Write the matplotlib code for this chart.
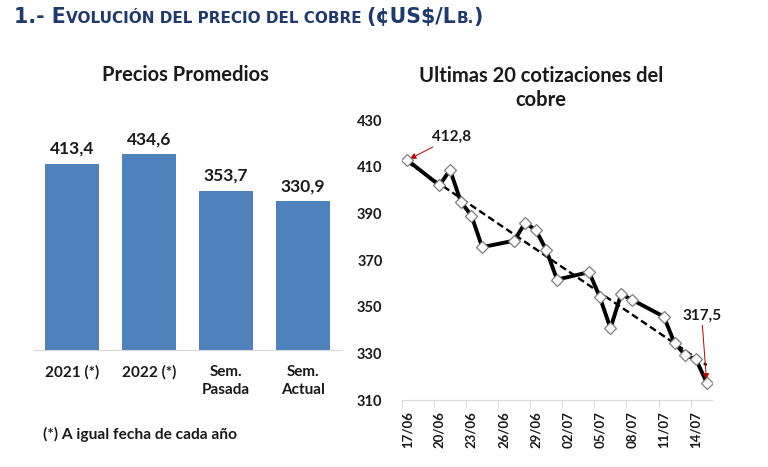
import numpy as np
import pandas as pd
import matplotlib
matplotlib.use("Agg")
import matplotlib.pyplot as plt

plt.rcParams['font.family'] = ['Lato', 'DejaVu Sans']

# Precios promedios
categorias = ["2021 (*)", "2022 (*)", "Sem.\nPasada", "Sem.\nActual"]
promedios = [413.4, 434.6, 353.7, 330.9]

# Ultimas cotizaciones (¢US$/Lb.)
fechas = ["17/06", "20/06", "21/06", "22/06", "23/06", "24/06",
          "27/06", "28/06", "29/06", "30/06", "01/07",
          "04/07", "05/07", "06/07", "07/07", "08/07",
          "11/07", "12/07", "13/07", "14/07", "15/07"]
cotizaciones = [412.8, 402.0, 408.6, 395.0, 389.0, 375.5,
                378.3, 385.8, 383.0, 374.3, 361.6,
                364.8, 354.2, 340.7, 355.4, 353.0,
                345.7, 334.3, 329.3, 327.4, 317.5]
ticks_fechas = ["17/06", "20/06", "23/06", "26/06", "29/06",
                "02/07", "05/07", "08/07", "11/07", "14/07"]

W, H = 768, 467
fig = plt.figure(figsize=(W / 100, H / 100), dpi=100)
txt = '#1a1a1a'
azul = '#1f3a6e'


def px(l, t, r, b):
    return [l / W, (H - b) / H, (r - l) / W, (b - t) / H]


# header in small caps, pieces chained one after the other
hdr = fig.add_axes([0, 0, 1, 1])
hdr.set_axis_off()
piezas = [("1.- E", 14.8), ("VOLUCIÓN DEL PRECIO DEL COBRE ", 11),
          ("(¢US$/L", 14.8), ("B.", 11), (")", 14.8)]
prev = None
for s, size in piezas:
    if prev is None:
        prev = hdr.annotate(s, xy=(14, 444), xycoords='figure pixels',
                            ha='left', va='baseline', fontsize=size,
                            fontweight='bold', color=azul, family='DejaVu Sans')
    else:
        prev = hdr.annotate(s, xy=(1, 444), xycoords=(prev, 'figure pixels'),
                            ha='left', va='baseline', fontsize=size,
                            fontweight='bold', color=azul, family='DejaVu Sans')

# Graph 1: precios promedios
ax1 = fig.add_axes(px(33.5, 134, 341.5, 350))
x = np.arange(len(categorias))
bars = ax1.bar(x, promedios, width=0.71, color='#4F81BD')
ax1.set_xlim(-0.5, len(categorias) - 0.5)
ax1.set_ylim(0, 480)
for b, v in zip(bars, promedios):
    ax1.annotate(f"{v:.1f}".replace('.', ','), xy=(b.get_x() + b.get_width() / 2, v),
                 xytext=(0, 7), textcoords='offset pixels', ha='center', va='bottom',
                 fontsize=12.5, fontweight='bold', color=txt)
ax1.set_xticks(x)
ax1.set_xticklabels(categorias, fontsize=11, fontweight='bold', color=txt, linespacing=1.35)
ax1.tick_params(axis='x', length=0, pad=11)
ax1.set_yticks([])
for s in ['top', 'right', 'left']:
    ax1.spines[s].set_visible(False)
ax1.spines['bottom'].set_color('#d9d9d9')
fig.text(185 / W, (H - 75) / H, "Precios Promedios", ha='center', va='center',
         fontsize=14.5, fontweight='bold', color=txt)
fig.text(43 / W, (H - 434) / H, "(*) A igual fecha de cada año", ha='left', va='center',
         fontsize=11.2, fontweight='bold', color=txt)

# Graph 2: ultimas cotizaciones
d = pd.to_datetime([f + "/2022" for f in fechas], format='%d/%m/%Y')
dias = np.array((d - d[0]).days, dtype=float)
dt = pd.to_datetime([f + "/2022" for f in ticks_fechas], format='%d/%m/%Y')
dias_t = np.array((dt - d[0]).days, dtype=float)

ax2 = fig.add_axes(px(402, 120, 712, 400))
ax2.plot(dias, cotizaciones, color='black', lw=2.8, zorder=2, solid_joinstyle='round')
a, b0 = np.polyfit(dias, cotizaciones, 1)
ax2.plot(dias, a * dias + b0, color='black', lw=1.7, ls=(0, (3, 1.6)), zorder=3)
ax2.plot(dias, cotizaciones, ls='none', marker='D', ms=6.3, mfc='white',
         mec='#7f7f7f', mew=0.9, zorder=4)
ax2.set_xlim(-0.5, dias[-1] + 0.5)
ax2.set_ylim(310, 430)
ax2.set_yticks(np.arange(310, 431, 20))
ax2.tick_params(axis='y', length=0, pad=14, labelsize=10.5, labelcolor=txt)
for lab in ax2.get_yticklabels():
    lab.set_fontweight('bold')
ax2.set_xticks(dias_t)
ax2.set_xticklabels(ticks_fechas, rotation=90, fontsize=9.5, fontweight='bold', color=txt)
ax2.set_xticks(dias_t - 0.5, minor=True)
ax2.tick_params(axis='x', which='major', length=0, pad=8)
ax2.tick_params(axis='x', which='minor', length=5, color='#d9d9d9', width=0.8)
for s in ['top', 'right', 'left']:
    ax2.spines[s].set_visible(False)
ax2.spines['bottom'].set_color('#d9d9d9')

flecha = dict(arrowstyle='-|>', color='#c00000', lw=0.7, mutation_scale=9,
              shrinkA=0, shrinkB=2)
ax2.annotate("412,8", xy=(dias[0], cotizaciones[0]), xytext=(25, 23),
             textcoords='offset pixels', ha='left', va='center', fontsize=11,
             fontweight='bold', color=txt, arrowprops=flecha)
ax2.annotate("317,5", xy=(dias[-1], cotizaciones[-1]), xytext=(-5, 67),
             textcoords='offset pixels', ha='center', va='center', fontsize=11,
             fontweight='bold', color=txt, arrowprops=flecha)

fig.text(541 / W, (H - 88) / H, "Ultimas 20 cotizaciones del\ncobre", ha='center',
         va='center', fontsize=14.5, fontweight='bold', color=txt, linespacing=1.3)

fig.savefig("out.png", dpi=100)
